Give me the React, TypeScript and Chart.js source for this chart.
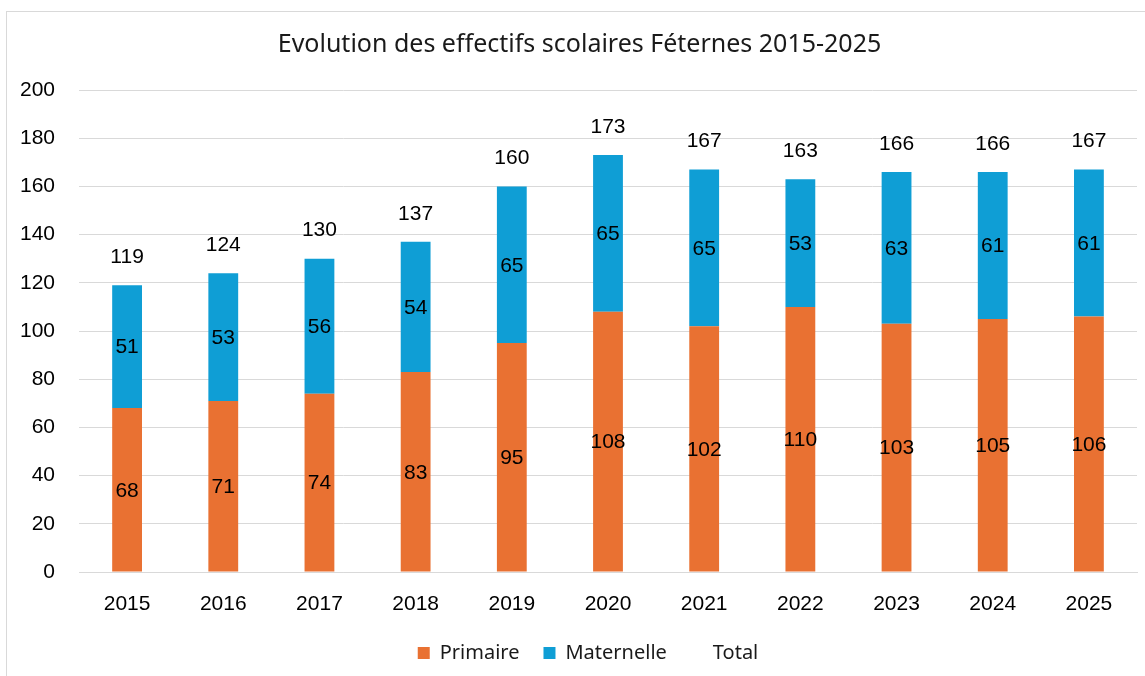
import React, { useEffect, useRef } from "react";
import { Chart, registerables } from "chart.js";

Chart.register(...registerables);

const years = ["2015", "2016", "2017", "2018", "2019", "2020", "2021", "2022", "2023", "2024", "2025"];
const primaire = [68, 71, 74, 83, 95, 108, 102, 110, 103, 105, 106];
const maternelle = [51, 53, 56, 54, 65, 65, 65, 53, 63, 61, 61];
const total = [119, 124, 130, 137, 160, 173, 167, 163, 166, 166, 167];
const yTicks = [0, 20, 40, 60, 80, 100, 120, 140, 160, 180, 200];

const TITLE = "Evolution des effectifs scolaires Féternes 2015-2025";
const LABEL_FONT = '21px "Liberation Sans", Arial, sans-serif';

const framePlugin = {
  id: "frame",
  beforeDraw(chart: any) {
    const ctx = chart.ctx;
    ctx.save();
    ctx.fillStyle = "#ffffff";
    ctx.fillRect(0, 0, chart.width, chart.height);
    ctx.strokeStyle = "#d9d9d9";
    ctx.lineWidth = 1;
    ctx.strokeRect(6.5, 11.5, 1160, 720);
    ctx.restore();
  },
};

// shift the centred title and legend so that they sit where the reference puts them
const placePlugin = {
  id: "place",
  afterLayout(chart: any) {
    if (chart.titleBlock) {
      chart.titleBlock.left = 22;
      chart.titleBlock.right = 1137;
    }
    if (chart.legend) {
      chart.legend.left = 39;
      chart.legend.right = 1137;
    }
  },
};

const labelsPlugin = {
  id: "valueLabels",
  afterDatasetsDraw(chart: any) {
    const ctx = chart.ctx;
    ctx.save();
    ctx.font = LABEL_FONT;
    ctx.fillStyle = "#000000";
    ctx.textAlign = "center";
    ctx.textBaseline = "middle";
    chart.data.datasets.forEach((ds: any, di: number) => {
      const meta = chart.getDatasetMeta(di);
      meta.data.forEach((el: any, i: number) => {
        const v = ds.data[i];
        if (ds.type === "line") {
          ctx.fillText(String(v), el.x, el.y - 28);
        } else {
          const cy = (el.y + el.base) / 2;
          ctx.fillText(String(v), el.x, cy + 1);
        }
      });
    });
    ctx.restore();
  },
};

export default function App() {
  const ref = useRef<HTMLCanvasElement | null>(null);

  useEffect(() => {
    if (!ref.current) return;
    const chart = new Chart(ref.current, {
      type: "bar",
      data: {
        labels: years,
        datasets: [
          {
            label: "Primaire",
            data: primaire,
            backgroundColor: "#E97132",
            borderWidth: 0,
            stack: "s",
            barPercentage: 0.62,
            categoryPercentage: 0.5,
          },
          {
            label: "Maternelle",
            data: maternelle,
            backgroundColor: "#0F9ED5",
            borderWidth: 0,
            stack: "s",
            barPercentage: 0.62,
            categoryPercentage: 0.5,
          },
          {
            type: "line",
            label: "Total",
            data: total,
            stack: "t",
            showLine: false,
            pointRadius: 0,
            backgroundColor: "rgba(0,0,0,0)",
            borderColor: "rgba(0,0,0,0)",
            borderWidth: 0,
          } as any,
        ],
      },
      options: {
        animation: false,
        responsive: false,
        events: [],
        layout: { padding: { left: 0, right: 8, top: 0, bottom: 3 } },
        plugins: {
          title: {
            display: true,
            text: TITLE,
            color: "#1a1a1a",
            font: { family: '"Noto Sans", sans-serif', size: 25, weight: "normal" },
            padding: { top: 30, bottom: 30 },
          },
          legend: {
            position: "bottom",
            labels: {
              boxWidth: 12,
              boxHeight: 12,
              padding: 24,
              color: "#1a1a1a",
              font: { family: '"Noto Sans", sans-serif', size: 20 },
            },
          },
          tooltip: { enabled: false },
        },
        scales: {
          x: {
            stacked: true,
            grid: { display: false, drawTicks: false },
            border: { display: true, color: "#d9d9d9", width: 1 },
            ticks: {
              color: "#000000",
              font: { family: '"Liberation Sans", Arial, sans-serif', size: 21 },
              padding: 20,
              maxRotation: 0,
            },
            afterFit: (s: any) => {
              s.height = 47;
            },
          },
          y: {
            stacked: true,
            min: 0,
            max: 200,
            afterBuildTicks: (s: any) => {
              s.ticks = yTicks.map((v) => ({ value: v }));
            },
            grid: { color: "#d9d9d9", lineWidth: 1, drawTicks: false },
            border: { display: false },
            ticks: {
              color: "#000000",
              font: { family: '"Liberation Sans", Arial, sans-serif', size: 21 },
              padding: 24,
            },
            afterFit: (s: any) => {
              s.width = 79;
            },
          },
        },
      },
      plugins: [framePlugin, placePlugin, labelsPlugin],
    });
    return () => chart.destroy();
  }, []);

  return (
    <div style={{ position: "fixed", left: 0, top: 0, width: 1145, height: 676, background: "#fff" }}>
      <canvas ref={ref} width={1145} height={676} style={{ display: "block", width: 1145, height: 676 }} />
    </div>
  );
}
